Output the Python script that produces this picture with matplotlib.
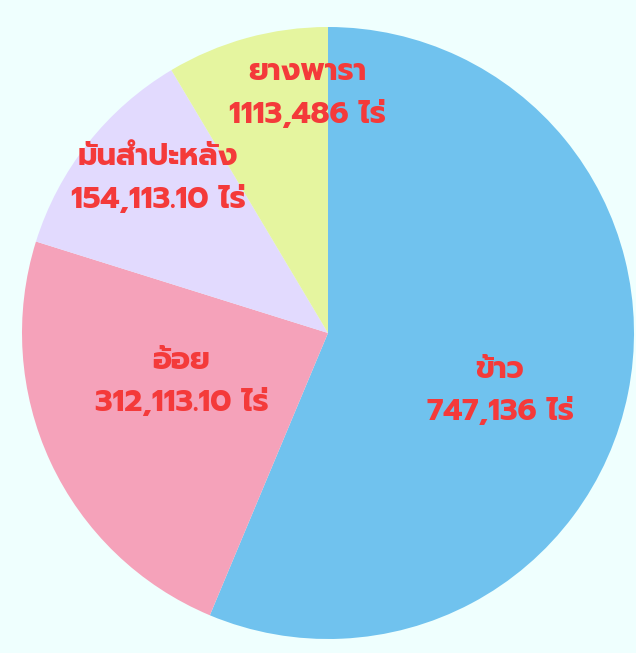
import matplotlib
matplotlib.use("Agg")
import matplotlib.pyplot as plt

# data
crops = ["ข้าว", "อ้อย", "มันสำปะหลัง", "ยางพารา"]
areas = [747136, 312113.10, 154113.10, 113486]
area_labels = ["747,136 ไร่", "312,113.10 ไร่", "154,113.10 ไร่", "1113,486 ไร่"]
colors = ["#70C2EE", "#F5A2BA", "#E2DAFE", "#E5F59F"]

# label centres (pie units)
label_pos = [(0.562, -0.190), (-0.479, -0.163), (-0.556, 0.503), (-0.069, 0.781)]

plt.rcParams['font.family'] = ['Prompt', 'DejaVu Sans']

bg = "#EFFFFE"
fig = plt.figure(figsize=(6.36, 6.53), dpi=100, facecolor=bg)
ax = fig.add_axes([0, 0, 1, 1])
ax.set_facecolor(bg)

ax.pie(areas, colors=colors, startangle=90, counterclock=False, radius=1.0,
       wedgeprops=dict(linewidth=0))

for name, lab, (x, y) in zip(crops, area_labels, label_pos):
    kw = dict(ha="center", va="center", color="#F43A3A", fontsize=22, fontweight=700)
    ax.text(x, y + 0.069, name, **kw)
    ax.text(x, y - 0.069, lab, **kw)

ax.set_xlim(-328 / 306, 308 / 306)
ax.set_ylim(-320 / 306, 333 / 306)
ax.set_aspect("auto")
ax.axis("off")

fig.savefig("out.png", facecolor=bg)
